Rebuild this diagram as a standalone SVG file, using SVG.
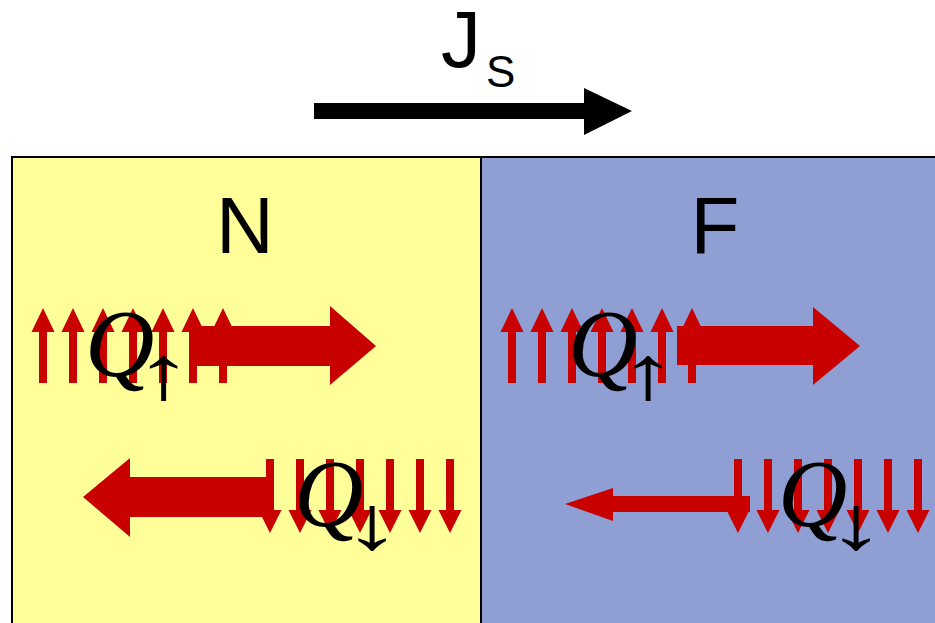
<svg xmlns="http://www.w3.org/2000/svg" xmlns:xlink="http://www.w3.org/1999/xlink" width="935" height="623" viewBox="0 0 935 623">
<style>
.red{fill:#c80000}
.lbl{font-family:"Liberation Sans",Arial,sans-serif;fill:#000}
.q{font-family:"Liberation Serif","Times New Roman",serif;font-style:italic;font-size:96px;fill:#000}
.sub{font-family:"Liberation Serif","Times New Roman",serif;font-size:76px;fill:#000;text-anchor:middle}
</style>
<defs>
<path id="up" class="red" d="M-4,383 L-4,332 L-11.5,332 L0,308 L11.5,332 L4,332 L4,383 Z"/>
<path id="down" class="red" d="M-4,459 L4,459 L4,510 L11.5,510 L0,533 L-11.5,510 L-4,510 Z"/>
</defs>
<rect width="935" height="623" fill="#fff"/>
<g id="N">
<rect x="12" y="157" width="469" height="470" fill="#ffff99" stroke="#000" stroke-width="2"/>
<text class="lbl" x="245" y="253" font-size="80" text-anchor="middle">N</text>
</g>
<g id="F">
<rect x="481" y="157" width="460" height="470" fill="#8f9fd4" stroke="#000" stroke-width="2"/>
<text class="lbl" x="715" y="253" font-size="80" text-anchor="middle">F</text>
</g>
<g id="Js">
<text class="lbl" x="441" y="67" font-size="80">J<tspan font-size="44" dx="5" dy="20">S</tspan></text>
</g>
<g id="connectors">
<path d="M314,103 L584,103 L584,88 L632,111 L584,135 L584,119 L314,119 Z" fill="#000"/>
</g>
<g id="N-up">
<use xlink:href="#up" x="43"/><use xlink:href="#up" x="73"/><use xlink:href="#up" x="103"/><use xlink:href="#up" x="133"/><use xlink:href="#up" x="163"/><use xlink:href="#up" x="193"/><use xlink:href="#up" x="223"/>
<path class="red" d="M192,326 L330,326 L330,306 L376,346 L330,385 L330,366 L192,366 Z"/>
<text class="q" x="85" y="376">Q</text>
<text class="sub" transform="translate(164,399) scale(1.55,1)">↑</text>
</g>
<g id="N-down">
<path class="red" d="M273,477 L130,477 L130,458 L83,497 L130,537 L130,517 L273,517 Z"/>
<use xlink:href="#down" x="270"/><use xlink:href="#down" x="300"/><use xlink:href="#down" x="330"/><use xlink:href="#down" x="360"/><use xlink:href="#down" x="390"/><use xlink:href="#down" x="420"/><use xlink:href="#down" x="450"/>
<text class="q" x="294" y="526">Q</text>
<text class="sub" transform="translate(372.5,549) scale(1.55,1)">↓</text>
</g>
<g id="F-up">
<use xlink:href="#up" x="512"/><use xlink:href="#up" x="542"/><use xlink:href="#up" x="572"/><use xlink:href="#up" x="602"/><use xlink:href="#up" x="632"/><use xlink:href="#up" x="662"/><use xlink:href="#up" x="692"/>
<path class="red" d="M677,326 L813,326 L813,307 L860,346 L813,385 L813,365 L677,365 Z"/>
<text class="q" x="568" y="376">Q</text>
<text class="sub" transform="translate(648.5,399) scale(1.55,1)">↑</text>
</g>
<g id="F-down">
<path class="red" d="M750,496 L613,496 L613,488 L565,504 L613,521 L613,512 L750,512 Z"/>
<use xlink:href="#down" x="738"/><use xlink:href="#down" x="768"/><use xlink:href="#down" x="798"/><use xlink:href="#down" x="828"/><use xlink:href="#down" x="858"/><use xlink:href="#down" x="888"/><use xlink:href="#down" x="918"/>
<text class="q" x="778" y="526">Q</text>
<text class="sub" transform="translate(856.5,549) scale(1.55,1)">↓</text>
</g>
</svg>
